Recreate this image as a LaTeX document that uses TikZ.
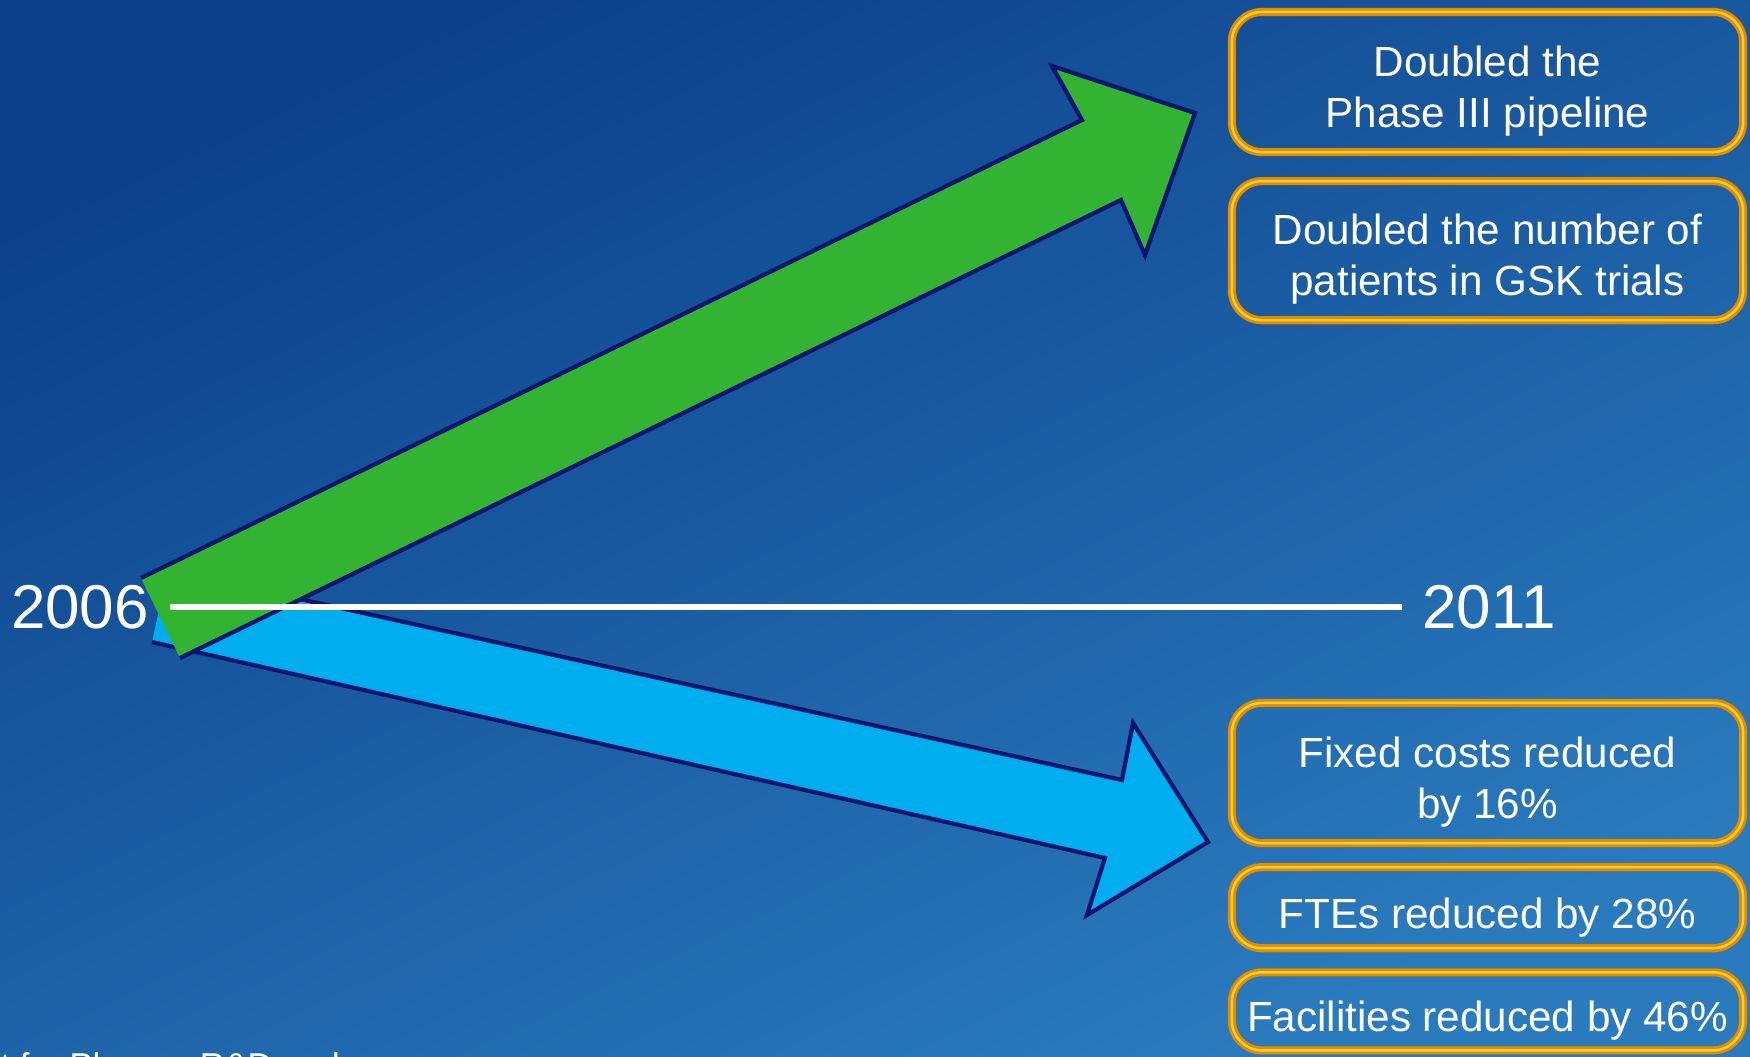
\documentclass[tikz,border=0pt]{standalone}
\usepackage{fontspec}
\setmainfont{Liberation Sans}
\usetikzlibrary{positioning}
\definecolor{bgtop}{RGB}{12,64,138}
\definecolor{bgbot}{RGB}{42,123,190}
\definecolor{gold}{RGB}{226,140,0}
\definecolor{goldhi}{RGB}{255,206,50}
\definecolor{navy}{RGB}{10,22,110}
\definecolor{leafgreen}{RGB}{50,180,50}
\definecolor{skyblue}{RGB}{0,174,239}

\begin{document}
\begin{tikzpicture}[x=0.01cm,y=-0.01cm,node distance=0.16cm,
      goldbox/.style={draw=gold,line width=2.3pt,rounded corners=0.3cm,
        postaction={draw=goldhi,line width=0.7pt},
        minimum width=5.11cm,align=center,text=white,
        font=\fontsize{12}{14.5}\selectfont},
      oneline/.style={text height=11.6pt,text depth=0pt},
      twoline/.style={text height=25.6pt,text depth=0pt},
      year/.style={text=white,inner xsep=0.2cm,inner ysep=0pt,
        font=\fontsize{17.6}{21}\selectfont},
      outline/.style={draw=navy,line width=1.2pt,line join=miter}]
      \useasboundingbox (0,0) rectangle (1750,1056);
      \clip (0,0) rectangle (1750,1056);
      \shade[top color=bgtop,bottom color=bgbot,shading angle=25] (0,0) rectangle (1750,1056);
      % costs going down
      \fill[skyblue] (168,570) -- (1122,780) -- (1133,723) -- (1208,842) -- (1087,915) -- (1105,858) -- (152,642) -- cycle;
      \draw[outline] (168,570) -- (1122,780) -- (1133,723) -- (1208,842) -- (1087,915) -- (1105,858) -- (152,642);
      % output going up
      \fill[leafgreen] (141,578) -- (1082,120) -- (1052,66) -- (1195,113) -- (1145,255) -- (1121,200) -- (180,658) -- cycle;
      \draw[outline] (141,578) -- (1082,120) -- (1052,66) -- (1195,113) -- (1145,255) -- (1121,200) -- (180,658);
      \node[year,anchor=base] (y2006) at (80,628) {2006};
      \node[year,anchor=base] (y2011) at (1489,628) {2011};
      \draw[white,line width=1.7pt] (y2006) -- (y2011);
      \node[goldbox,twoline,minimum height=1.40cm] (pipe) at (1487.5,82) {Doubled the\\Phase III pipeline};
      \node[goldbox,twoline,minimum height=1.39cm,below=0.21cm of pipe] (patients) {Doubled the number of\\patients in GSK trials};
      \node[goldbox,twoline,minimum height=1.40cm] (fixed) at (1487.5,773) {Fixed costs reduced\\by 16\%};
      \node[goldbox,oneline,minimum height=0.81cm,below=of fixed] (ftes) {FTEs reduced by 28\%};
      \node[goldbox,oneline,minimum height=0.78cm,below=of ftes] (facil) {Facilities reduced by 46\%};
      \node[text=white,anchor=base west,inner sep=0pt,font=\fontsize{9.8}{12}\selectfont] (src) at (0,1077) {t for Pharma R\&D and};
    \end{tikzpicture}
\end{document}
